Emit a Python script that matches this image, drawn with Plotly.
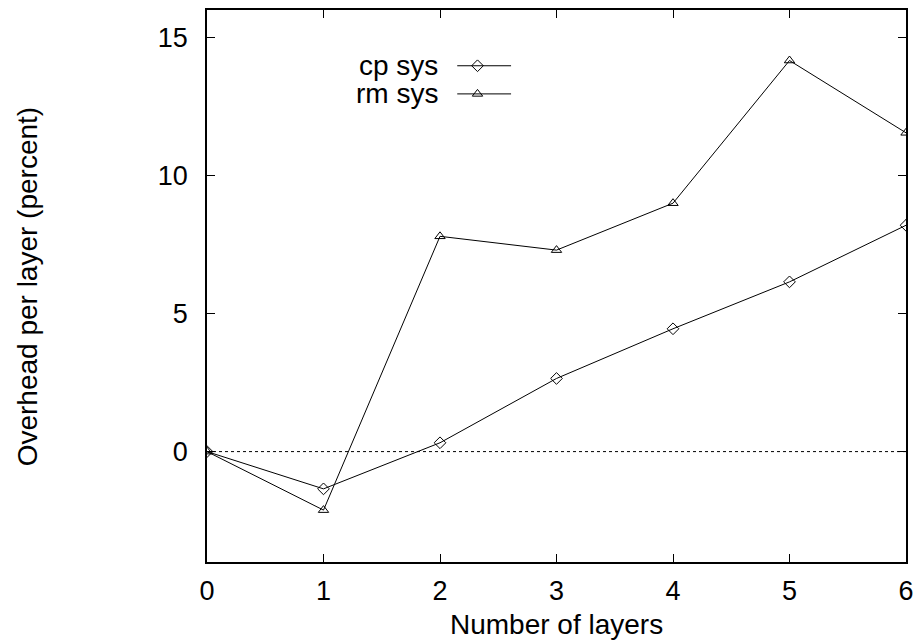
import plotly.graph_objects as go

layers = [0, 1, 2, 3, 4, 5, 6]
cp_sys = [0, -1.35, 0.32, 2.65, 4.45, 6.15, 8.2]
rm_sys = [0, -2.12, 7.8, 7.3, 9.0, 14.17, 11.55]
series_names = ["cp sys", "rm sys"]
x_ticks = [0, 1, 2, 3, 4, 5, 6]
y_ticks = [0, 5, 10, 15]

FONT = "Liberation Sans, Arial, sans-serif"

fig = go.Figure()
fig.add_trace(go.Scatter(x=layers, y=cp_sys, mode="lines+markers", name=series_names[0],
                         line=dict(color="black", width=1),
                         marker=dict(symbol="diamond-open", size=9, color="black", line=dict(width=1))))
fig.add_trace(go.Scatter(x=layers, y=rm_sys, mode="lines+markers", name=series_names[1],
                         line=dict(color="black", width=1),
                         marker=dict(symbol="triangle-up-open", size=9, color="black", line=dict(width=1))))

# legend samples on an overlay axis (0..1 paper-like)
leg_y = [0.899, 0.848]
syms = ["diamond-open", "triangle-up-open"]
for i, nm in enumerate(series_names):
    fig.add_trace(go.Scatter(x=[0.358, 0.435], y=[leg_y[i]] * 2, mode="lines", xaxis="x2", yaxis="y2",
                             line=dict(color="black", width=1), showlegend=False, hoverinfo="skip"))
    fig.add_trace(go.Scatter(x=[0.387], y=[leg_y[i]], mode="markers", xaxis="x2", yaxis="y2",
                             marker=dict(symbol=syms[i], size=9, color="black", line=dict(width=1)),
                             showlegend=False, hoverinfo="skip"))
    fig.add_annotation(x=0.333, y=leg_y[i], xref="x2", yref="y2", text=nm, showarrow=False,
                       xanchor="right", yanchor="middle", font=dict(family=FONT, size=28, color="black"))

fig.add_shape(type="line", x0=0, x1=6, y0=0, y1=0, xref="x", yref="y",
              line=dict(color="black", width=1, dash="3px,3px"))

fig.add_annotation(x=0.5007, y=-0.1138, xref="paper", yref="paper", text="Number of layers",
                   showarrow=False, xanchor="center", yanchor="middle",
                   font=dict(family=FONT, size=28, color="black"))
fig.add_annotation(x=-0.257, y=0.5, xref="paper", yref="paper", text="Overhead per layer (percent)",
                   showarrow=False, xanchor="center", yanchor="middle", textangle=-90,
                   font=dict(family=FONT, size=28, color="black"))

axis_common = dict(showgrid=False, zeroline=False, showline=True, linecolor="black", linewidth=1.5,
                   mirror="allticks", ticks="inside", ticklen=8, tickcolor="black", tickwidth=1,
                   tickfont=dict(family=FONT, size=27, color="black"))
fig.update_layout(
    width=922, height=642,
    margin=dict(l=207, r=14, t=8, b=80),
    paper_bgcolor="white", plot_bgcolor="white",
    showlegend=False,
    xaxis=dict(range=[0, 6], tickvals=x_ticks, ticklabelstandoff=4, **axis_common),
    yaxis=dict(range=[-4, 16], tickvals=y_ticks, ticklabelstandoff=12, **axis_common),
    xaxis2=dict(range=[0, 1], overlaying="x", visible=False, fixedrange=True),
    yaxis2=dict(range=[0, 1], overlaying="y", visible=False, fixedrange=True),
)

fig.write_html("out.html", config={"displayModeBar": False},
               post_script="document.body.style.margin='0';document.body.style.overflow='hidden';")
